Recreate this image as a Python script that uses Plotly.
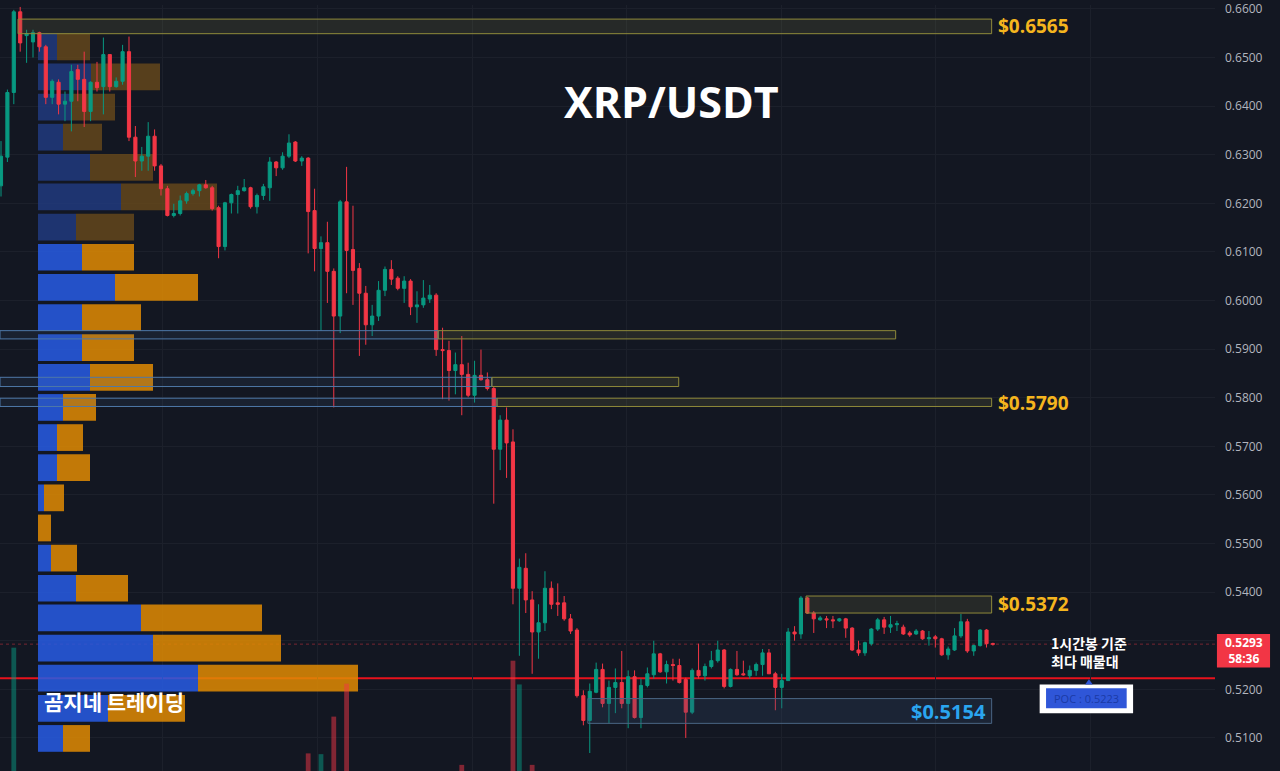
import plotly.graph_objects as go

# ---------------- data ----------------
candle_idx = list(range(156))
open_ = [
0.6236,0.6295,0.6428,0.6594,0.6545,0.6532,0.6551,0.6522,0.6418,0.6449,
0.6404,0.6410,0.6475,0.6455,0.6389,0.6449,0.6440,0.6506,0.6440,0.6451,
0.6512,0.6336,0.6287,0.6297,0.6338,0.6277,0.6230,0.6175,0.6179,0.6205,
0.6220,0.6226,0.6238,0.6232,0.6191,0.6111,0.6201,0.6218,0.6226,0.6232,
0.6193,0.6216,0.6232,0.6285,0.6273,0.6297,0.6326,0.6287,0.6293,0.6185,
0.6107,0.6119,0.6060,0.5968,0.6203,0.6105,0.6066,0.6015,0.5950,0.5968,
0.6021,0.6064,0.6046,0.6025,0.6040,0.5987,0.5991,0.6003,0.6011,0.5899,
0.5897,0.5856,0.5868,0.5848,0.5805,0.5846,0.5837,0.5819,0.5694,0.5754,
0.5709,0.5408,0.5449,0.5384,0.5318,0.5337,0.5408,0.5378,0.5378,0.5345,
0.5322,0.5187,0.5136,0.5194,0.5241,0.5171,0.5204,0.5214,0.5171,0.5226,
0.5142,0.5208,0.5230,0.5273,0.5236,0.5251,0.5249,0.5220,0.5153,0.5239,
0.5228,0.5247,0.5259,0.5281,0.5206,0.5241,0.5232,0.5228,0.5239,0.5251,
0.5275,0.5232,0.5204,0.5218,0.5318,0.5314,0.5388,0.5357,0.5343,0.5345,
0.5343,0.5341,0.5345,0.5326,0.5281,0.5275,0.5294,0.5324,0.5343,0.5328,
0.5333,0.5328,0.5316,0.5314,0.5320,0.5304,0.5308,0.5304,0.5271,0.5281,
0.5310,0.5339,0.5279,0.5290,0.5322,0.5294]
high = [
0.6328,0.6434,0.6598,0.6604,0.6557,0.6557,0.6553,0.6526,0.6455,0.6455,
0.6430,0.6485,0.6485,0.6512,0.6451,0.6491,0.6541,0.6506,0.6459,0.6526,
0.6543,0.6359,0.6316,0.6367,0.6352,0.6281,0.6236,0.6199,0.6216,0.6224,
0.6230,0.6240,0.6248,0.6236,0.6195,0.6203,0.6220,0.6236,0.6250,0.6234,
0.6220,0.6240,0.6295,0.6287,0.6305,0.6342,0.6328,0.6297,0.6295,0.6230,
0.6132,0.6162,0.6066,0.6207,0.6275,0.6195,0.6077,0.6030,0.5991,0.6040,
0.6070,0.6083,0.6050,0.6050,0.6044,0.6019,0.6042,0.6032,0.6015,0.5944,
0.5917,0.5893,0.5927,0.5872,0.5876,0.5899,0.5852,0.5823,0.5764,0.5780,
0.5735,0.5469,0.5480,0.5402,0.5375,0.5443,0.5422,0.5418,0.5392,0.5355,
0.5326,0.5198,0.5212,0.5255,0.5253,0.5218,0.5243,0.5279,0.5239,0.5239,
0.5222,0.5245,0.5300,0.5275,0.5259,0.5263,0.5263,0.5224,0.5243,0.5294,
0.5253,0.5279,0.5300,0.5283,0.5243,0.5279,0.5259,0.5249,0.5255,0.5283,
0.5283,0.5236,0.5232,0.5326,0.5330,0.5392,0.5390,0.5361,0.5351,0.5351,
0.5351,0.5347,0.5347,0.5328,0.5300,0.5298,0.5326,0.5347,0.5349,0.5351,
0.5341,0.5333,0.5320,0.5324,0.5322,0.5320,0.5312,0.5306,0.5288,0.5326,
0.5355,0.5345,0.5292,0.5324,0.5324,0.5296]
low = [
0.6214,0.6285,0.6404,0.6512,0.6489,0.6500,0.6512,0.6404,0.6404,0.6383,
0.6369,0.6348,0.6410,0.6357,0.6369,0.6430,0.6383,0.6430,0.6438,0.6444,
0.6328,0.6254,0.6267,0.6267,0.6267,0.6216,0.6173,0.6171,0.6175,0.6199,
0.6216,0.6214,0.6230,0.6185,0.6087,0.6103,0.6179,0.6179,0.6224,0.6189,
0.6179,0.6207,0.6205,0.6256,0.6269,0.6293,0.6285,0.6277,0.6097,0.6060,
0.5938,0.5995,0.5780,0.5933,0.6015,0.5991,0.5886,0.5909,0.5927,0.5958,
0.6009,0.6032,0.6021,0.5995,0.5970,0.5954,0.5985,0.5995,0.5886,0.5797,
0.5794,0.5807,0.5764,0.5801,0.5790,0.5835,0.5815,0.5582,0.5651,0.5635,
0.5375,0.5269,0.5357,0.5232,0.5263,0.5320,0.5365,0.5351,0.5341,0.5314,
0.5183,0.5126,0.5069,0.5192,0.5163,0.5130,0.5151,0.5161,0.5120,0.5140,
0.5120,0.5204,0.5222,0.5234,0.5212,0.5218,0.5212,0.5100,0.5149,0.5222,
0.5218,0.5243,0.5255,0.5202,0.5204,0.5228,0.5228,0.5222,0.5228,0.5228,
0.5232,0.5157,0.5161,0.5218,0.5300,0.5304,0.5355,0.5316,0.5341,0.5326,
0.5326,0.5339,0.5306,0.5279,0.5269,0.5269,0.5290,0.5320,0.5314,0.5316,
0.5320,0.5312,0.5308,0.5312,0.5302,0.5290,0.5286,0.5269,0.5261,0.5279,
0.5306,0.5275,0.5269,0.5288,0.5286,0.5290]
close = [
0.6297,0.6428,0.6594,0.6530,0.6549,0.6551,0.6522,0.6418,0.6451,0.6404,
0.6410,0.6471,0.6455,0.6389,0.6449,0.6438,0.6506,0.6440,0.6451,0.6512,
0.6336,0.6287,0.6297,0.6338,0.6277,0.6230,0.6175,0.6179,0.6205,0.6220,
0.6226,0.6238,0.6232,0.6189,0.6111,0.6201,0.6218,0.6226,0.6232,0.6193,
0.6216,0.6234,0.6285,0.6273,0.6297,0.6324,0.6287,0.6293,0.6183,0.6107,
0.6119,0.6060,0.5968,0.6203,0.6103,0.6062,0.6015,0.5950,0.5968,0.6021,
0.6064,0.6044,0.6025,0.6040,0.5987,0.5991,0.6005,0.6011,0.5899,0.5897,
0.5856,0.5868,0.5848,0.5805,0.5846,0.5837,0.5819,0.5694,0.5754,0.5707,
0.5408,0.5451,0.5384,0.5318,0.5337,0.5408,0.5375,0.5375,0.5345,0.5320,
0.5187,0.5136,0.5196,0.5241,0.5171,0.5204,0.5214,0.5171,0.5226,0.5142,
0.5208,0.5232,0.5273,0.5236,0.5251,0.5249,0.5214,0.5153,0.5239,0.5228,
0.5247,0.5259,0.5281,0.5206,0.5241,0.5230,0.5230,0.5239,0.5251,0.5275,
0.5232,0.5204,0.5218,0.5318,0.5314,0.5388,0.5357,0.5345,0.5347,0.5343,
0.5341,0.5345,0.5326,0.5281,0.5275,0.5296,0.5324,0.5343,0.5328,0.5333,
0.5335,0.5314,0.5312,0.5320,0.5304,0.5306,0.5304,0.5271,0.5283,0.5310,
0.5339,0.5279,0.5290,0.5322,0.5294,0.5293]

# visible volume bars (bottom of chart)
vol_idx = [2, 48, 50, 52, 54, 72, 80, 81, 83]
vol_val = [16.1, 2.3, 2.2, 7.1, 11.4, 0.8, 14.4, 11.3, 0.8]

# volume profile (price bin centers, buy / sell volume)
prof_price = [0.6522, 0.6460, 0.6398, 0.6336, 0.6274, 0.6213, 0.6151, 0.6089,
              0.6027, 0.5965, 0.5903, 0.5842, 0.5780, 0.5718, 0.5656, 0.5594,
              0.5532, 0.5470, 0.5408, 0.5347, 0.5285, 0.5223, 0.5161, 0.5099]
prof_buy = [19, 53, 33, 25, 52, 83, 38, 44, 77, 44, 44, 52, 25, 19, 19, 6,
            0, 13, 38, 103, 115, 160, 70, 25]
prof_sell = [33, 69, 44, 39, 63, 96, 58, 52, 83, 59, 52, 63, 33, 26, 33, 20,
             13, 26, 52, 121, 128, 160, 77, 27]
in_value_area = [False]*7 + [True]*17

price_ticks = [0.51, 0.52, 0.53, 0.54, 0.55, 0.56, 0.57, 0.58, 0.59, 0.60,
               0.61, 0.62, 0.63, 0.64, 0.65, 0.66]
current_price = 0.5293
countdown = "58:36"
poc_price = 0.5223

# zones: (start idx, end idx, low, high)
yellow_zones = [(2.66, 154.8, 0.6549, 0.6579), (68.3, 139.8, 0.5921, 0.5938),
                (76.7, 105.9, 0.5823, 0.5842), (77.5, 154.8, 0.5782, 0.5799),
                (125.8, 154.8, 0.5357, 0.5392)]
blue_left_zones = [(-0.156, 68.3, 0.5921, 0.5938), (-0.156, 76.7, 0.5823, 0.5842),
                   (-0.156, 77.5, 0.5782, 0.5799)]
support_zone = (91.7, 154.8, 0.5130, 0.5181)
level_labels = [("$0.6565", 0.6564), ("$0.5790", 0.5790), ("$0.5372", 0.5375)]
day_grid = [25.3, 49.5, 73.7, 97.8, 122.0, 146.1, 170.2]

BG = "#131722"
UP = "#089981"
DN = "#f23645"

fig = go.Figure()

# volume profile (base subplot)
blue_c = ["#275ce5" if v else "#213a7e" for v in in_value_area]
orng_c = ["#e18b03" if v else "#64471b" for v in in_value_area]
fig.add_trace(go.Bar(orientation="h", y=prof_price, x=prof_buy, base=[0]*len(prof_buy),
                     width=0.0055, marker=dict(color=blue_c, line=dict(width=0)),
                     opacity=0.85, xaxis="x", yaxis="y", hoverinfo="skip"))
fig.add_trace(go.Bar(orientation="h", y=prof_price, x=prof_sell, base=prof_buy,
                     width=0.0055, marker=dict(color=orng_c, line=dict(width=0)),
                     opacity=0.85, xaxis="x", yaxis="y", hoverinfo="skip"))

# candles
fig.add_trace(go.Candlestick(x=candle_idx, open=open_, high=high, low=low, close=close,
                             increasing=dict(line=dict(color=UP, width=1), fillcolor=UP),
                             decreasing=dict(line=dict(color=DN, width=1), fillcolor=DN),
                             whiskerwidth=0, xaxis="x2", yaxis="y"))

# volume
vol_colors = ["rgba(8,153,129,0.5)" if close[i] >= open_[i] else "rgba(242,54,69,0.5)" for i in vol_idx]
fig.add_trace(go.Bar(x=vol_idx, y=vol_val, width=0.75, marker=dict(color=vol_colors, line=dict(width=0)),
                     xaxis="x2", yaxis="y3", hoverinfo="skip"))

shapes = []
# POC line (behind)
shapes.append(dict(type="line", xref="paper", yref="y", x0=0, x1=1, y0=poc_price, y1=poc_price,
                   line=dict(color="#e8121c", width=2), layer="below"))
# current price dotted line
shapes.append(dict(type="line", xref="paper", yref="y", x0=0, x1=1, y0=current_price, y1=current_price,
                   line=dict(color="rgba(242,54,69,0.45)", width=1, dash="dot"), layer="below"))
for x0, x1, lo, hi in blue_left_zones:
    shapes.append(dict(type="rect", xref="x2", yref="y", x0=x0, x1=x1, y0=lo, y1=hi,
                       fillcolor="rgba(70,110,160,0.12)", line=dict(color="#4f79a8", width=1), layer="above"))
for x0, x1, lo, hi in yellow_zones:
    shapes.append(dict(type="rect", xref="x2", yref="y", x0=x0, x1=x1, y0=lo, y1=hi,
                       fillcolor="rgba(130,128,70,0.18)", line=dict(color="#8f8a3a", width=1), layer="above"))
sx0, sx1, slo, shi = support_zone
shapes.append(dict(type="rect", xref="x2", yref="y", x0=sx0, x1=sx1, y0=slo, y1=shi,
                   fillcolor="rgba(50,75,110,0.25)", line=dict(color="#4a6584", width=1), layer="above"))
# POC label box
shapes.append(dict(type="rect", xref="x2", yref="y", x0=162.3, x1=176.9, y0=0.5151, y1=0.5210,
                   fillcolor="#ffffff", line=dict(width=0), layer="above"))
shapes.append(dict(type="rect", xref="x2", yref="y", x0=163.3, x1=175.9, y0=0.5161, y1=0.5202,
                   fillcolor="#2f56d8", line=dict(width=0), layer="above"))
shapes.append(dict(type="path", xref="x2", yref="y",
                   path="M 169.4 0.5210 L 170.0 0.5221 L 170.6 0.5210 Z",
                   fillcolor="#2f56d8", line=dict(width=0), layer="above"))
# current price tag on axis
shapes.append(dict(type="rect", xref="paper", yref="y", x0=1.0016, x1=1.0453, y0=0.5245, y1=0.5314,
                   fillcolor=DN, line=dict(width=0), layer="above"))

annotations = []
annotations.append(dict(text="<b>XRP/USDT</b>", xref="paper", yref="paper", x=0.553, y=0.874,
                        xanchor="center", yanchor="middle",
                        showarrow=False, font=dict(family="Open Sans", size=43, color="#ffffff")))
for txt, yv in level_labels:
    annotations.append(dict(text="<b>%s</b>" % txt, xref="x2", yref="y", x=155.5, y=yv,
                            xanchor="left", yanchor="middle",
                            showarrow=False, font=dict(family="Open Sans", size=19, color="#f5b51e")))
annotations.append(dict(text="<b>$0.5154</b>", xref="x2", yref="y", x=154.3, y=0.5154,
                        xanchor="right", yanchor="middle",
                        showarrow=False, font=dict(family="Open Sans", size=20, color="#2aa5ef")))
annotations.append(dict(text="<b>1시간봉 기준<br>최다 매물대</b>", xref="x2", yref="y", x=170.0, y=0.5277,
                        xanchor="center", yanchor="middle", showarrow=False, align="left",
                        font=dict(family="Noto Sans CJK KR", size=14, color="#ffffff")))
annotations.append(dict(text="POC : 0.5223", xref="x2", yref="y", x=169.6, y=0.5182,
                        xanchor="center", yanchor="middle",
                        showarrow=False, font=dict(family="Open Sans", size=11, color="#1b3aa6")))
annotations.append(dict(text="<b>곰지네 트레이딩</b>", xref="x", yref="y", x=4, y=0.5176,
                        xanchor="left", yanchor="middle",
                        showarrow=False, font=dict(family="Noto Sans CJK KR", size=21, color="#ffffff")))
annotations.append(dict(text="<b>%.4f<br>%s</b>" % (current_price, countdown), xref="paper", yref="y",
                        x=1.0235, y=0.52795, xanchor="center", yanchor="middle", showarrow=False,
                        font=dict(family="Open Sans", size=12, color="#ffffff")))

fig.update_layout(
    width=1280, height=771,
    margin=dict(l=0, r=65, t=0, b=0),
    paper_bgcolor=BG, plot_bgcolor=BG,
    showlegend=False, barmode="overlay", boxgap=0.3,
    xaxis=dict(range=[-38, 1177], visible=False, fixedrange=True),
    xaxis2=dict(range=[-0.156, 189.7], overlaying="x", anchor="y", rangeslider=dict(visible=False),
                showticklabels=False, ticks="", tickvals=day_grid, showgrid=True,
                gridcolor="#1c202b", gridwidth=1, zeroline=False, showline=False),
    yaxis=dict(range=[0.5032, 0.6608], side="right", tickvals=price_ticks,
               ticktext=["" if abs(p - 0.53) < 1e-9 else "%.4f" % p for p in price_ticks],
               showgrid=True, gridcolor="#1c202b", gridwidth=1, zeroline=False, ticks="",
               ticklabelstandoff=9, ticklabeloverflow="allow",
               tickfont=dict(family="Open Sans", size=12, color="#b2b5be")),
    yaxis3=dict(range=[0, 100], overlaying="y", visible=False),
    shapes=shapes, annotations=annotations,
)

fig.write_html("out.html", config={"displayModeBar": False},
               post_script="document.body.style.margin='0';document.body.style.overflow='hidden';")
